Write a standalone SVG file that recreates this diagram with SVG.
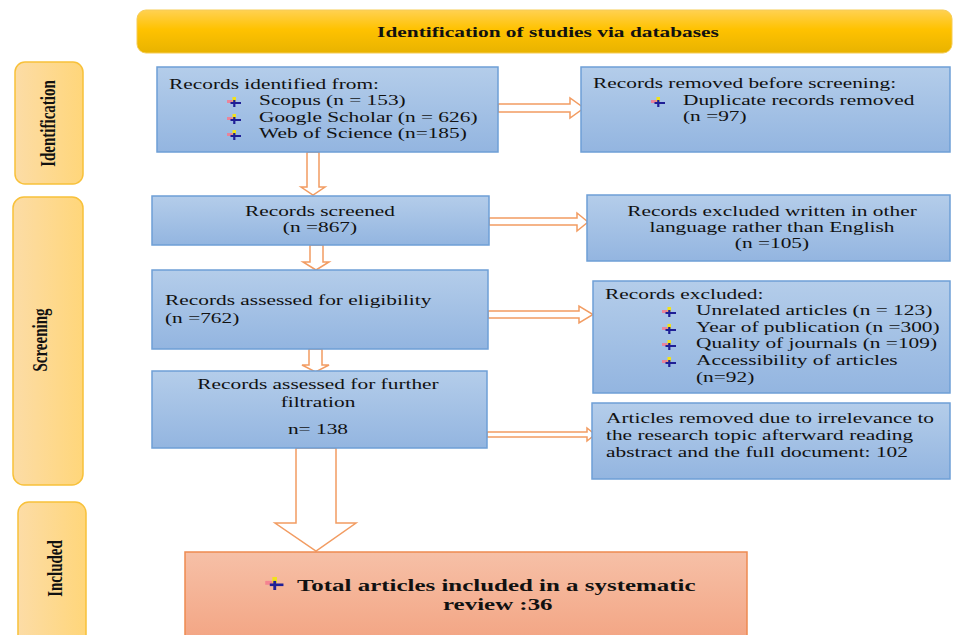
<svg xmlns="http://www.w3.org/2000/svg" width="959" height="635" viewBox="0 0 959 635">
<defs>
  <linearGradient id="gBlue" x1="0" y1="0" x2="0" y2="1">
    <stop offset="0" stop-color="#B4CDEA"/>
    <stop offset="1" stop-color="#93B5E0"/>
  </linearGradient>
  <linearGradient id="gLabel" x1="0" y1="0" x2="1" y2="0">
    <stop offset="0" stop-color="#FCDCA6"/>
    <stop offset="1" stop-color="#FFD67A"/>
  </linearGradient>
  <linearGradient id="gHead" x1="0" y1="0" x2="0" y2="1">
    <stop offset="0" stop-color="#FFD152"/>
    <stop offset="0.45" stop-color="#FFC200"/>
    <stop offset="1" stop-color="#E8B300"/>
  </linearGradient>
  <linearGradient id="gSalmon" x1="0" y1="0" x2="0" y2="1">
    <stop offset="0" stop-color="#F6C0A7"/>
    <stop offset="1" stop-color="#F3A381"/>
  </linearGradient>
  <symbol id="blt" viewBox="0 0 15 10">
    <rect x="0" y="3" width="7" height="3" fill="#F47A8E" opacity="0.85"/>
    <rect x="5.5" y="0" width="3.5" height="4.5" fill="#F2E21A"/>
    <rect x="3.5" y="5" width="10.5" height="2" fill="#1F1F96"/>
    <rect x="6.2" y="3" width="2.2" height="7" fill="#1F1F96"/>
  </symbol>
</defs>
<style>
  .box { fill: url(#gBlue); stroke: #6E9FD6; stroke-width: 1.5; }
  .lbl { fill: url(#gLabel); stroke: #F8C13A; stroke-width: 1.5; }
  .arr { fill: #FFFFFF; stroke: #F29C62; stroke-width: 1.5; stroke-linejoin: miter; }
  .t { font-family: "Liberation Serif", "Times New Roman", serif; font-size: 15px; fill: #111; }
  .b { font-weight: bold; }
  .c { text-anchor: middle; }
</style>

<g id="header">
  <rect x="137" y="10" width="815" height="43" rx="9" fill="url(#gHead)" stroke="#F6CC55" stroke-width="1"/>
  <text class="t b c" transform="translate(548 37) scale(1.425 1)">Identification of studies via databases</text>
</g>

<g id="label-identification">
  <rect class="lbl" x="15" y="62" width="68" height="122" rx="10"/>
  <text class="t b c" transform="translate(55 123.5) rotate(-90) scale(1 1.425)">Identification</text>
</g>
<g id="label-screening">
  <rect class="lbl" x="13" y="197" width="70" height="288" rx="11"/>
  <text class="t b c" transform="translate(47 340) rotate(-90) scale(1 1.425)">Screening</text>
</g>
<g id="label-included">
  <rect class="lbl" x="18" y="502" width="68" height="145" rx="11"/>
  <text class="t b c" transform="translate(62 568.5) rotate(-90) scale(1 1.425)">Included</text>
</g>

<g id="connectors">
  <polygon class="arr" points="498,104 570,104 570,98 584,108 570,118 570,112 498,112"/>
  <polygon class="arr" points="307,152 319,152 319,187 325,187 313,195 301,187 307,187"/>
  <polygon class="arr" points="489,218 577,218 577,213 588,222 577,231 577,225 489,225"/>
  <polygon class="arr" points="310,245 323,245 323,262 329,262 316,270 303,262 310,262"/>
  <polygon class="arr" points="488,311 579,311 579,306 593,314.5 579,323 579,318 488,318"/>
  <polygon class="arr" points="309,349 322,349 322,365 329,365 315.5,372 302,365 309,365"/>
  <polygon class="arr" points="487,432 587,432 587,428 595,434.5 587,441 587,437 487,437"/>
  <polygon class="arr" points="296,448 336,448 336,523 356,523 316,551 275,523 296,523"/>
</g>

<g id="n-identified">
  <rect class="box" x="157" y="67" width="341" height="85"/>
  <text class="t" transform="translate(169 89) scale(1.425 1)">Records identified from:</text>
  <use href="#blt" x="227" y="97" width="15" height="10"/>
  <text class="t" transform="translate(259 105) scale(1.425 1)">Scopus (n = 153)</text>
  <use href="#blt" x="227" y="114" width="15" height="10"/>
  <text class="t" transform="translate(259 122) scale(1.425 1)">Google Scholar (n = 626)</text>
  <use href="#blt" x="227" y="130" width="15" height="10"/>
  <text class="t" transform="translate(259 138) scale(1.425 1)">Web of Science (n=185)</text>
</g>

<g id="n-removed">
  <rect class="box" x="581" y="67" width="369" height="85"/>
  <text class="t" transform="translate(593 88) scale(1.425 1)">Records removed before screening:</text>
  <use href="#blt" x="651" y="97" width="15" height="10"/>
  <text class="t" transform="translate(683 105) scale(1.425 1)">Duplicate records removed</text>
  <text class="t" transform="translate(683 121) scale(1.425 1)">(n =97)</text>
</g>

<g id="n-screened">
  <rect class="box" x="152" y="196" width="337" height="49"/>
  <text class="t c" transform="translate(320 216) scale(1.425 1)">Records screened</text>
  <text class="t c" transform="translate(320 232) scale(1.425 1)">(n =867)</text>
</g>

<g id="n-language">
  <rect class="box" x="587" y="195" width="363" height="66"/>
  <text class="t c" transform="translate(772 216) scale(1.425 1)">Records excluded written in other</text>
  <text class="t c" transform="translate(772 232) scale(1.425 1)">language rather than English</text>
  <text class="t c" transform="translate(772 248) scale(1.425 1)">(n =105)</text>
</g>

<g id="n-eligibility">
  <rect class="box" x="152" y="270" width="336" height="79"/>
  <text class="t" transform="translate(165 305) scale(1.425 1)">Records assessed for eligibility</text>
  <text class="t" transform="translate(165 323) scale(1.425 1)">(n =762)</text>
</g>

<g id="n-excluded">
  <rect class="box" x="593" y="281" width="357" height="112"/>
  <text class="t" transform="translate(605 299) scale(1.425 1)">Records excluded:</text>
  <use href="#blt" x="662" y="307" width="15" height="10"/>
  <text class="t" transform="translate(696 315) scale(1.425 1)">Unrelated articles (n = 123)</text>
  <use href="#blt" x="662" y="324" width="15" height="10"/>
  <text class="t" transform="translate(696 332) scale(1.425 1)">Year of publication (n =300)</text>
  <use href="#blt" x="662" y="340" width="15" height="10"/>
  <text class="t" transform="translate(696 348) scale(1.425 1)">Quality of journals (n =109)</text>
  <use href="#blt" x="662" y="357" width="15" height="10"/>
  <text class="t" transform="translate(696 365) scale(1.425 1)">Accessibility of articles</text>
  <text class="t" transform="translate(696 382) scale(1.425 1)">(n=92)</text>
</g>

<g id="n-filtration">
  <rect class="box" x="152" y="371" width="335" height="77"/>
  <text class="t c" transform="translate(318 389) scale(1.425 1)">Records assessed for further</text>
  <text class="t c" transform="translate(318 407) scale(1.425 1)">filtration</text>
  <text class="t c" transform="translate(318 434) scale(1.425 1)">n= 138</text>
</g>

<g id="n-irrelevant">
  <rect class="box" x="592" y="403" width="358" height="76"/>
  <text class="t" transform="translate(606 423) scale(1.425 1)">Articles removed due to irrelevance to</text>
  <text class="t" transform="translate(606 440) scale(1.425 1)">the research topic afterward reading</text>
  <text class="t" transform="translate(606 457) scale(1.425 1)">abstract and the full document: 102</text>
</g>

<g id="n-included">
  <rect x="185" y="552" width="562" height="95" fill="url(#gSalmon)" stroke="#EE8A50" stroke-width="1.5"/>
  <use href="#blt" x="265" y="577" width="20" height="13"/>
  <text class="t b" style="font-size:17.5px" transform="translate(297 591) scale(1.425 1)">Total articles included in a systematic</text>
  <text class="t b" style="font-size:17.5px" transform="translate(443 610) scale(1.425 1)">review :36</text>
</g>
</svg>
